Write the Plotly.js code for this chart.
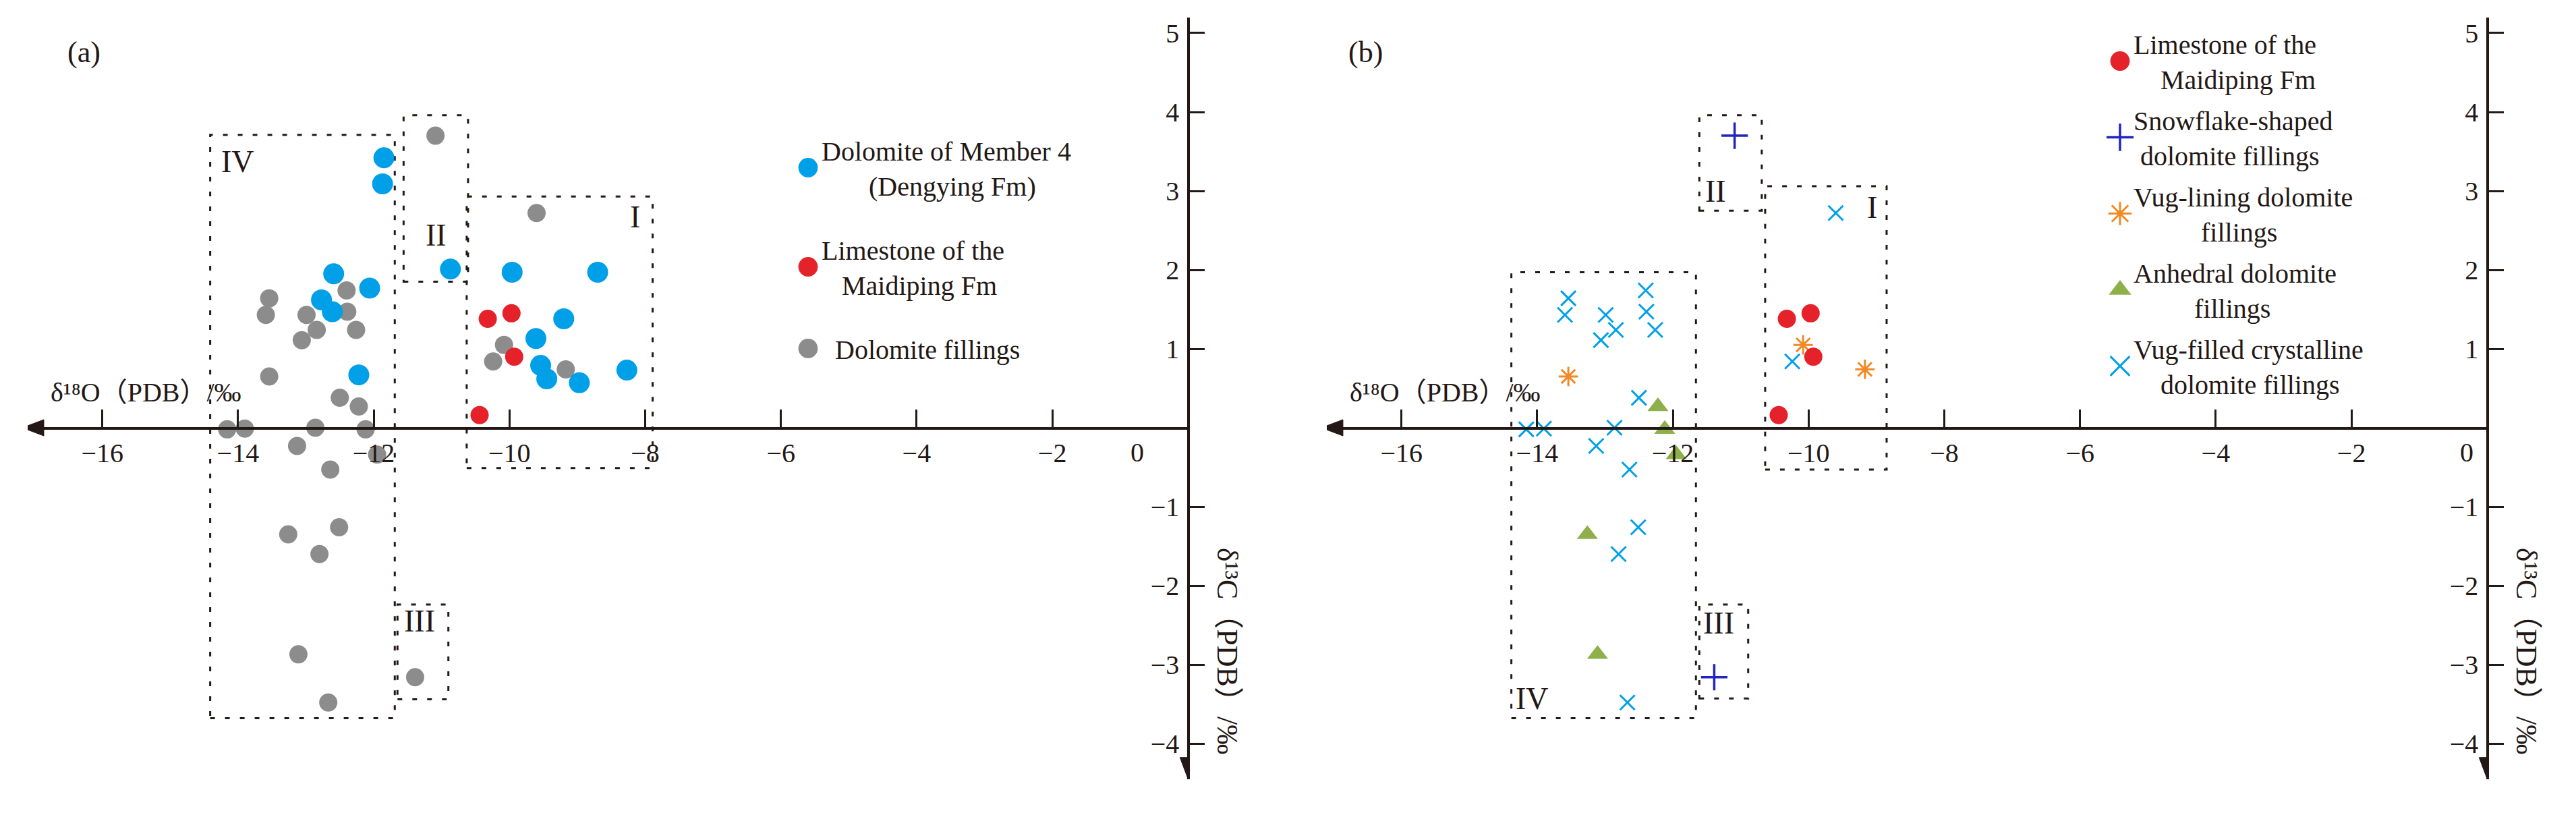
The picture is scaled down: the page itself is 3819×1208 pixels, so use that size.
<!DOCTYPE html>
<html><head><meta charset="utf-8">
<script src="https://cdn.plot.ly/plotly-3.0.1.min.js"></script>
<style>html,body{margin:0;padding:0;background:#fff}</style>
</head><body><div id="chart" style="width:3819px;height:1208px"></div>
<script>
// ---------------- DATA (δ18O, δ13C in ‰ PDB) ----------------
// Panel (a)
const a_member4_d18O = [-11.85,-11.87,-10.87,-12.59,-12.77,-12.61,-12.06,-12.22,-9.96,-8.70,-9.20,-9.61,-9.54,-9.45,-8.97,-8.27];
const a_member4_d13C = [3.42,3.09,2.01,1.95,1.62,1.47,1.77,0.67,1.97,1.97,1.38,1.13,0.79,0.62,0.57,0.73];
const a_maidiping_d18O = [-10.32,-9.97,-9.93,-10.44];
const a_maidiping_d13C = [1.38,1.45,0.90,0.16];
const a_fillings_d18O = [-11.09,-9.60,-13.54,-13.59,-12.99,-12.40,-12.39,-12.84,-12.26,-13.06,-13.54,-12.50,-12.22,-14.16,-13.90,-12.86,-12.12,-13.13,-11.95,-12.64,-13.26,-12.51,-12.80,-13.11,-12.67,-11.39,-10.08,-10.24,-9.17];
const a_fillings_d13C = [3.70,2.72,1.64,1.43,1.43,1.74,1.47,1.24,1.24,1.11,0.65,0.38,0.27,-0.02,-0.01,0.00,-0.02,-0.23,-0.34,-0.53,-1.35,-1.26,-1.60,-2.87,-3.48,-3.16,1.05,0.84,0.74];
// Panel (b)
const b_maidiping_d18O = [-10.32,-9.97,-9.93,-10.44];
const b_maidiping_d13C = [1.38,1.45,0.90,0.16];
const b_snowflake_d18O = [-11.09,-11.39];
const b_snowflake_d13C = [3.70,-3.16];
const b_viglining_d18O = [-13.54,-10.08,-9.17];
const b_viglining_d13C = [0.65,1.05,0.74];
const b_anhedral_d18O = [-12.22,-12.12,-11.95,-13.26,-13.11];
const b_anhedral_d13C = [0.27,-0.02,-0.34,-1.35,-2.87];
const b_vugfilled_d18O = [-13.54,-13.59,-12.99,-13.06,-12.84,-12.40,-12.39,-12.26,-12.50,-12.86,-13.13,-12.64,-14.16,-13.90,-12.51,-12.80,-12.67,-10.24,-9.60];
const b_vugfilled_d13C = [1.64,1.43,1.43,1.11,1.24,1.74,1.47,1.24,0.38,0.00,-0.23,-0.53,-0.02,-0.01,-1.26,-1.60,-3.48,0.84,2.72];
// Axis ticks
const xTickVals = [-16,-14,-12,-10,-8,-6,-4,-2];
const yTickVals = [5,4,3,2,1,-1,-2,-3,-4];
// Region boxes [x0,x1,y0,y1] and label anchors
const regionNames = ['I','II','III','IV'];
const regionsA = {I:[-10.63,-7.89,-0.51,2.93], II:[-11.56,-10.61,1.85,3.96], III:[-11.65,-10.90,-3.44,-2.24], IV:[-14.41,-11.69,-3.68,3.71]};
const labelsA = {I:[-8.15,2.67], II:[-11.08,2.44], III:[-11.32,-2.45], IV:[-14.0,3.37]};
const regionsB = {I:[-10.64,-8.85,-0.53,3.06], II:[-11.61,-10.69,2.75,3.96], III:[-11.61,-10.89,-3.43,-2.24], IV:[-14.38,-11.66,-3.68,1.97]};
const labelsB = {I:[-9.06,2.79], II:[-11.37,3.00], III:[-11.32,-2.47], IV:[-14.07,-3.43]};

// ---------------- STYLE ----------------
const W = 3819, H = 1208;
const INK = '#231815';
const FONT = '"Liberation Serif", "DejaVu Serif", "Noto Sans CJK SC", serif';
const XR = [-17.1, 0], YR = [-4.45, 5.2];
const yDom = [0.04412, 0.97881];
const xDomA = [41/W, 1761.3/W];
const shift = 1926;
const xDomB = [(41+shift)/W, (1761.3+shift)/W];
const xAxisPos = 1 - 634/H;
const PXX = (1761.3-41)/(XR[1]-XR[0]);           // px per x unit
const PXY = (yDom[1]-yDom[0])*H/(YR[1]-YR[0]);   // px per y unit

function xaxisDef(dom){
  return {domain:dom, range:XR, anchor:'free', position:xAxisPos, showline:true, linecolor:INK, linewidth:3.5,
    ticks:'inside', ticklen:26, tickwidth:3, tickcolor:INK, tickvals:xTickVals, showgrid:false, zeroline:false,
    tickfont:{family:FONT, size:40, color:INK}, fixedrange:true};
}
function yaxisDef(pos){
  return {domain:yDom, range:YR, anchor:'free', position:pos, side:'left', showline:true, linecolor:INK, linewidth:3.5,
    ticks:'inside', ticklen:22, tickwidth:3, tickcolor:INK, tickvals:yTickVals, showgrid:false, zeroline:false,
    tickfont:{family:FONT, size:40, color:INK}, ticklabelstandoff:4, fixedrange:true};
}

const traces = [
  {x:a_fillings_d18O, y:a_fillings_d13C, name:'&nbsp;&nbsp;Dolomite fillings', legendrank:3, legendgroup:'a3',
   marker:{color:'#8c8c8c', size:27}},
  {x:a_member4_d18O, y:a_member4_d13C, name:'Dolomite of Member 4<br>&nbsp;&nbsp;&nbsp;&nbsp;&nbsp;&nbsp;&nbsp;(Dengying Fm)', legendrank:1, legendgroup:'a1',
   marker:{color:'#00a0e9', size:31}},
  {x:a_maidiping_d18O, y:a_maidiping_d13C, name:'Limestone of the<br>&nbsp;&nbsp;&nbsp;Maidiping Fm', legendrank:2, legendgroup:'a2',
   marker:{color:'#e5212a', size:27}},
].map(t => Object.assign({type:'scatter', mode:'markers', xaxis:'x', yaxis:'y', legend:'legend', cliponaxis:false}, t));

const tracesB = [
  {x:b_vugfilled_d18O, y:b_vugfilled_d13C, name:'Vug-filled crystalline<br>&nbsp;&nbsp;&nbsp;&nbsp;dolomite fillings', legendrank:5, legendgroup:'b5',
   marker:{symbol:'x-thin-open', color:'#00a0e9', size:22, line:{color:'#00a0e9', width:3}}},
  {x:b_anhedral_d18O, y:b_anhedral_d13C, name:'Anhedral dolomite<br>&nbsp;&nbsp;&nbsp;&nbsp;&nbsp;&nbsp;&nbsp;&nbsp;&nbsp;fillings', legendrank:4, legendgroup:'b4',
   marker:{symbol:'triangle-up', color:'#8db04a', size:27}},
  {x:b_viglining_d18O, y:b_viglining_d13C, name:'Vug-lining dolomite<br>&nbsp;&nbsp;&nbsp;&nbsp;&nbsp;&nbsp;&nbsp;&nbsp;&nbsp;&nbsp;fillings', legendrank:3, legendgroup:'b3',
   marker:{symbol:'asterisk-open', color:'#f08a24', size:24, line:{color:'#f08a24', width:3}}},
  {x:b_snowflake_d18O, y:b_snowflake_d13C, name:'Snowflake-shaped<br>&nbsp;dolomite fillings', legendrank:2, legendgroup:'b2',
   marker:{symbol:'cross-thin-open', color:'#2323c0', size:28, line:{color:'#2323c0', width:3.5}}},
  {x:b_maidiping_d18O, y:b_maidiping_d13C, name:'Limestone of the<br>&nbsp;&nbsp;&nbsp;&nbsp;Maidiping Fm', legendrank:1, legendgroup:'b1',
   marker:{color:'#e5212a', size:27}},
].map(t => Object.assign({type:'scatter', mode:'markers', xaxis:'x2', yaxis:'y2', legend:'legend2', cliponaxis:false}, t));

const shapes = [];
const annotations = [];
function addRegions(regs, labs, xr, yr){
  regionNames.forEach(k => {
    const r = regs[k];
    shapes.push({type:'rect', xref:xr, yref:yr, x0:r[0], x1:r[1], y0:r[2], y1:r[3],
      line:{color:INK, width:3, dash:'7px,15px'}, fillcolor:'rgba(0,0,0,0)', layer:'below'});
    annotations.push({xref:xr, yref:yr, x:labs[k][0], y:labs[k][1], text:k, showarrow:false,
      font:{family:FONT, size:46, color:INK}});
  });
}
addRegions(regionsA, labelsA, 'x', 'y');
addRegions(regionsB, labelsB, 'x2', 'y2');

function addAxisDecor(xr, yr, xd, panel, zeroX){
  // arrowheads (filled triangles at the axis ends)
  const L = 32, Hh = 12;
  const lx = L/PXX, hy = Hh/PXY, ly = L/PXY, hx = Hh/PXX;
  shapes.push({type:'path', xref:xr, yref:yr, layer:'above', fillcolor:INK, line:{color:INK, width:1},
    path:`M ${XR[0]-0.08},0 L ${XR[0]-0.08+lx},${hy} L ${XR[0]-0.08+lx},${-hy} Z`});
  shapes.push({type:'path', xref:xr, yref:yr, layer:'above', fillcolor:INK, line:{color:INK, width:1},
    path:`M 0,${YR[0]} L ${hx},${YR[0]+ly} L ${-hx},${YR[0]+ly} Z`});
  // origin label
  annotations.push({xref:xr, yref:yr, x:zeroX, y:0, yshift:-12, yanchor:'top', text:'0', showarrow:false,
    font:{family:FONT, size:40, color:INK}});
  // x title
  annotations.push({xref:xr, yref:yr, x:-16.78, y:0.45, xanchor:'left', yanchor:'middle',
    text:'δ¹⁸O（PDB）/‰', showarrow:false, font:{family:FONT, size:40, color:INK}});
  // y title
  annotations.push({xref:'paper', yref:yr, x:xd[1] + 59/W, y:-2.83, textangle:90, xanchor:'center', yanchor:'middle',
    text:'δ¹³C（PDB）/‰', showarrow:false, font:{family:FONT, size:44, color:INK}});
  // panel label
  annotations.push({xref:'paper', yref:'paper', x:xd[0] + 57/W, y:1 - 51/H, text:panel, showarrow:false,
    font:{family:FONT, size:44, color:INK}});
}
addAxisDecor('x', 'y', xDomA, '(a)', -0.75);
addAxisDecor('x2', 'y2', xDomB, '(b)', -0.3);

const legendBase = {bgcolor:'rgba(0,0,0,0)', borderwidth:0, font:{family:FONT, size:40, color:INK},
  xanchor:'left', yanchor:'top', traceorder:'grouped', itemwidth:30, valign:'middle'};

const layout = {
  width:W, height:H, margin:{l:0,r:0,t:0,b:0}, paper_bgcolor:'#fff', plot_bgcolor:'rgba(0,0,0,0)',
  showlegend:true,
  xaxis: xaxisDef(xDomA), yaxis: yaxisDef(xDomA[1]),
  xaxis2: xaxisDef(xDomB), yaxis2: yaxisDef(xDomB[1]),
  legend: Object.assign({}, legendBase, {x:1178/W, y:1 - 190/H, tracegroupgap:40}),
  legend2: Object.assign({}, legendBase, {x:(3147-24)/W, y:1 - 32/H, tracegroupgap:6}),
  shapes, annotations
};

Plotly.newPlot('chart', traces.concat(tracesB), layout, {staticPlot:true, displayModeBar:false}).then(gd => {
  const S = 1.8;
  gd.querySelectorAll('g.legendpoints path.scatterpts').forEach(p => {
    const t = p.getAttribute('transform') || '';
    p.setAttribute('transform', t + ' scale(' + S + ')');
    const sw = parseFloat(p.style.strokeWidth);
    if (sw) p.style.strokeWidth = (sw / S) + 'px';
  });
  gd.querySelectorAll('text').forEach(t => { if (!t.textContent.trim()) t.remove(); });
});
</script></body></html>
